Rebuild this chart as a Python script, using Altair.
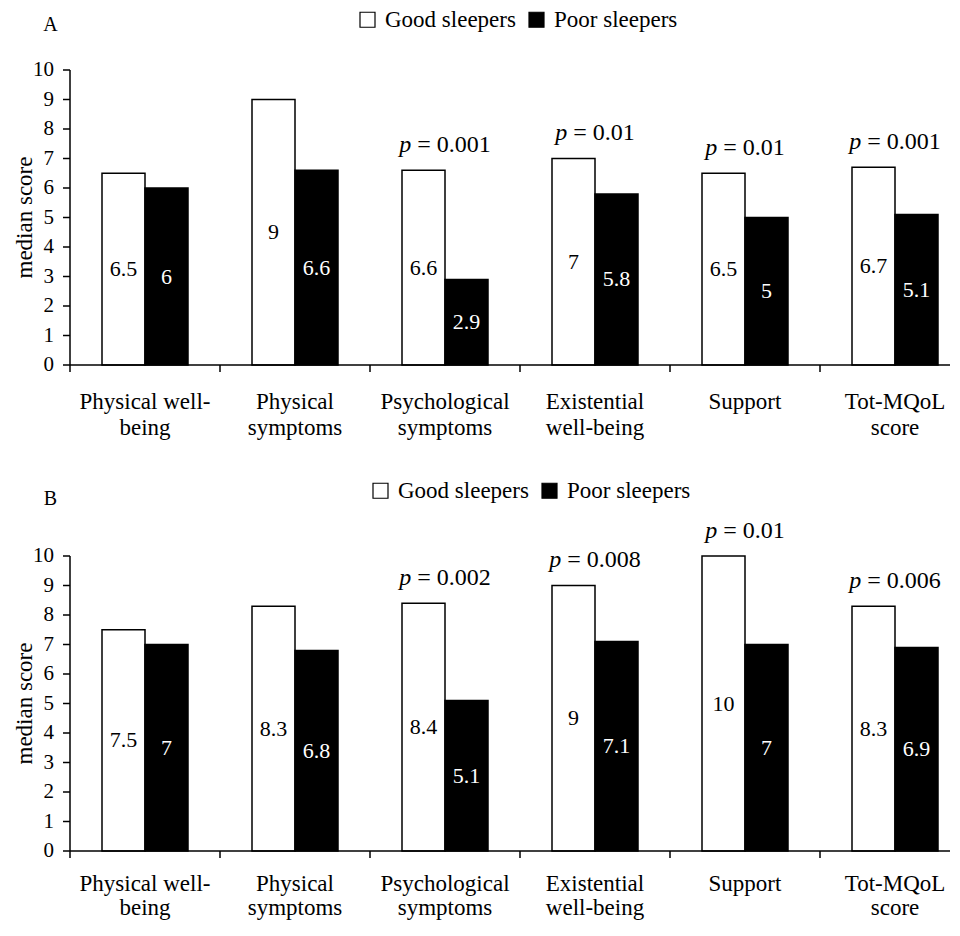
import altair as alt
import pandas as pd

# ---------------- data ----------------
categories = ["Physical well-|being", "Physical|symptoms", "Psychological|symptoms",
              "Existential|well-being", "Support", "Tot-MQoL|score"]
groups = ["Good sleepers", "Poor sleepers"]

good_A = [6.5, 9, 6.6, 7, 6.5, 6.7]
poor_A = [6, 6.6, 2.9, 5.8, 5, 5.1]
p_A = ["", "", "0.001", "0.01", "0.01", "0.001"]

good_B = [7.5, 8.3, 8.4, 9, 10, 8.3]
poor_B = [7, 6.8, 5.1, 7.1, 7, 6.9]
p_B = ["", "", "0.002", "0.008", "0.01", "0.006"]

y_ticks = list(range(0, 11))
y_title = "median score"

# ---------------- style ----------------
FONT = "Liberation Serif"
W = 880          # visible plot width
H = 295          # plot height
STEP = 150       # category band width
P_SIZE = 24


def bars_df(good, poor):
    rows = []
    for c, g, p in zip(categories, good, poor):
        rows.append({"cat": c, "group": groups[0], "value": g, "label": f"{g:g}"})
        rows.append({"cat": c, "group": groups[1], "value": p, "label": f"{p:g}"})
    return pd.DataFrame(rows)


def p_df(good, pvals):
    rows = []
    for c, g, p in zip(categories, good, pvals):
        if p:
            rows.append({"cat": c, "value": g, "rest": "= " + p, "n": len(p)})
    return pd.DataFrame(rows)


x_scale = alt.Scale(domain=categories, range=[0, STEP * len(categories)],
                    paddingInner=0, paddingOuter=0)
y_scale = alt.Scale(domain=[0, 10], nice=False, zero=True)


def X(**kw):
    return alt.X("cat:N", sort=categories, scale=x_scale, axis=None, **kw)


def Y(field):
    return alt.Y(field, scale=y_scale, axis=None)


def panel(good, poor, pvals, letter, lx, ly, letter_y, lab_pad, lab_lh):
    df = bars_df(good, poor)
    pdf = p_df(good, pvals)

    xo = alt.XOffset("group:N", sort=groups,
                     scale=alt.Scale(domain=groups, paddingInner=0,
                                     paddingOuter=0.744186))

    fill = alt.Fill("group:N", sort=groups,
                    scale=alt.Scale(domain=groups, range=["white", "black"]),
                    legend=alt.Legend(title=None, orient="none", legendX=lx,
                                      legendY=ly, direction="horizontal",
                                      symbolType="square", symbolSize=225,
                                      symbolStrokeColor="black",
                                      symbolStrokeWidth=1.2, symbolOpacity=1,
                                      labelFont=FONT, labelFontSize=23,
                                      labelColor="black", labelOffset=6,
                                      columnPadding=9, padding=0,
                                      labelLimit=400))

    bars = alt.Chart(df).mark_bar(stroke="black", strokeWidth=1.5).encode(
        x=X(), xOffset=xo, y=Y("value:Q"), fill=fill)

    vals = alt.Chart(df).transform_calculate(half="datum.value / 2").mark_text(
        font=FONT, fontSize=22, align="center", baseline="middle").encode(
        x=X(), xOffset=xo,
        y=Y("half:Q"),
        text="label:N",
        color=alt.condition("datum.group == 'Good sleepers'",
                            alt.value("black"), alt.value("white")))

    layers = [bars, vals]

    for n in sorted(pdf["n"].unique()):
        sub = pdf[pdf["n"] == n]
        rest_em = 1.314 + 0.5 * (n - 1)
        total = 12 + P_SIZE * rest_em
        d0 = -total / 2
        base = alt.Chart(sub)
        layers.append(base.mark_text(font=FONT, fontSize=P_SIZE, fontStyle="italic",
                                     align="left", baseline="alphabetic",
                                     dx=d0, dy=-18.5, color="black").encode(
            x=X(), y=Y("value:Q"), text=alt.value("p")))
        layers.append(base.mark_text(font=FONT, fontSize=P_SIZE,
                                     align="left", baseline="alphabetic",
                                     dx=d0 + 18, dy=-18.5, color="black").encode(
            x=X(), y=Y("value:Q"), text="rest:N"))

    cat_df = pd.DataFrame({"cat": categories})
    tick_df = pd.DataFrame({"v": y_ticks})

    # category labels (x axis)
    cat_labels = alt.Chart(cat_df).mark_text(
        font=FONT, fontSize=23, align="center", baseline="top",
        lineBreak="|", lineHeight=lab_lh, color="black").encode(
        x=X(), y=alt.value(H + lab_pad), text="cat:N")

    # x axis line and ticks at category boundaries
    x_domain = alt.Chart(pd.DataFrame({"a": [0]})).mark_rule(
        color="black", strokeWidth=1.5).encode(
        x=alt.value(0), x2=alt.value(W), y=alt.value(H))
    x_ticks = alt.Chart(cat_df).mark_rule(
        color="black", strokeWidth=1.5).encode(
        x=X(bandPosition=0), y=alt.value(H), y2=alt.value(H + 7))

    # y axis line, ticks and labels
    y_domain = alt.Chart(pd.DataFrame({"a": [0]})).mark_rule(
        color="black", strokeWidth=1.5).encode(
        x=alt.value(0), y=alt.value(0), y2=alt.value(H))
    y_tick_marks = alt.Chart(tick_df).mark_rule(
        color="black", strokeWidth=1.5).encode(
        x=alt.value(-7), x2=alt.value(0), y=Y("v:Q"))
    y_tick_labels = alt.Chart(tick_df).mark_text(
        font=FONT, fontSize=21, align="right", baseline="middle",
        color="black").encode(
        x=alt.value(-16), y=Y("v:Q"), text=alt.Text("v:Q", format="d"))

    letter_layer = alt.Chart(pd.DataFrame({"t": [letter]})).mark_text(
        font=FONT, fontSize=20, align="center", baseline="alphabetic",
        color="black").encode(x=alt.value(-19.5), y=alt.value(letter_y), text="t:N")

    title_layer = alt.Chart(pd.DataFrame({"t": [y_title]})).mark_text(
        font=FONT, fontSize=23, align="center", baseline="alphabetic",
        angle=270, color="black").encode(
        x=alt.value(-38), y=alt.value(H / 2), text="t:N")

    layers += [cat_labels, x_domain, x_ticks, y_domain, y_tick_marks,
               y_tick_labels, letter_layer, title_layer]
    return alt.layer(*layers).properties(width=W, height=H)


panel_A = panel(good_A, poor_A, p_A, "A", 286, -62, -39, 26, 26)
panel_B = panel(good_B, poor_B, p_B, "B", 299, -77, -51, 22, 24)

chart = alt.vconcat(panel_A, panel_B, spacing=191, bounds="flush").resolve_scale(
    fill="independent").resolve_legend(fill="independent").configure(
    font=FONT).configure_text(font=FONT).configure_view(
    stroke=None).properties(
    padding={"left": 6, "top": 0, "right": 0, "bottom": 0},
    background="white")

chart.save("out.html", embed_options={"renderer": "svg", "actions": False})
